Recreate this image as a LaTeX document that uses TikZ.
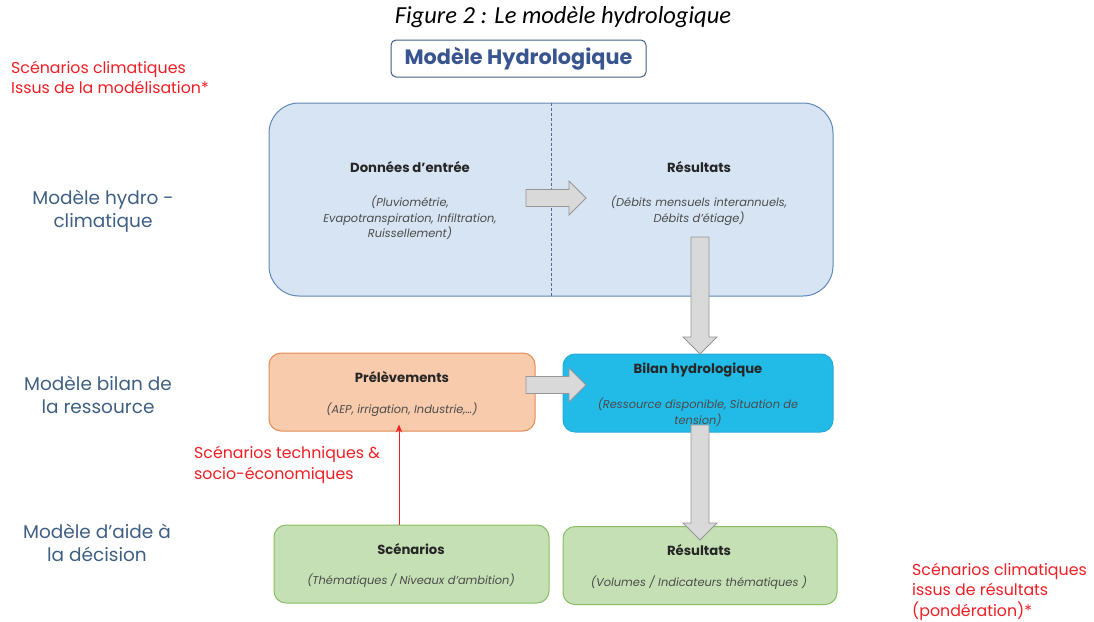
\documentclass[tikz,border=0pt]{standalone}
\usepackage{fontspec}
\setmainfont{Poppins}
\newfontfamily\calib{Carlito}
\usepackage{tikz}
\usetikzlibrary{positioning,arrows.meta,calc}

\definecolor{bleuT}{RGB}{63,95,130}
\definecolor{rougeT}{RGB}{238,30,36}
\definecolor{bleuF}{RGB}{214,228,243}
\definecolor{bleuB}{RGB}{95,135,185}
\definecolor{orF}{RGB}{248,203,173}
\definecolor{orB}{RGB}{225,140,85}
\definecolor{cyF}{RGB}{34,186,230}
\definecolor{cyB}{RGB}{40,170,215}
\definecolor{vtF}{RGB}{197,224,180}
\definecolor{vtB}{RGB}{135,190,100}
\definecolor{grF}{RGB}{217,217,217}
\definecolor{grB}{RGB}{150,150,150}
\definecolor{txG}{RGB}{75,75,75}

% block arrows between two named coordinates
\newcommand{\flecheH}[2]{%
  \draw[fleche] ($(#1)+(0,-8.5)$) -- ($(#2)+(-17,-8.5)$) -- ($(#2)+(-17,-17)$)
    -- (#2) -- ($(#2)+(-17,17)$) -- ($(#2)+(-17,8.5)$) -- ($(#1)+(0,8.5)$) -- cycle;}
\newcommand{\flecheV}[2]{%
  \draw[fleche] ($(#1)+(-9,0)$) -- ($(#2)+(-9,-17)$) -- ($(#2)+(-17,-17)$)
    -- (#2) -- ($(#2)+(17,-17)$) -- ($(#2)+(9,-17)$) -- ($(#1)+(9,0)$) -- cycle;}

\begin{document}
\begin{tikzpicture}[x=1pt, y=-1pt,
  every node/.style={inner sep=0pt},
  boite/.style={draw, line width=1pt, rounded corners=12pt},
  boiteB/.style={boite, fill=bleuF, draw=bleuB, rounded corners=30pt,
    minimum width=564pt, minimum height=193pt},
  boiteO/.style={boite, fill=orF, draw=orB, minimum width=266pt, minimum height=78pt},
  boiteC/.style={boite, fill=cyF, draw=cyB, minimum width=270pt, minimum height=78pt},
  boiteV/.style={boite, fill=vtF, draw=vtB, minimum width=275pt, minimum height=78pt},
  titre/.style={font=\fontsize{13.2}{15}\selectfont\bfseries, text=black!85},
  desc/.style={font=\fontsize{11.4}{15.5}\selectfont\itshape, text=txG, align=center},
  lbl/.style={font=\fontsize{18.5}{23.5}\selectfont, text=bleuT, align=center},
  rouge/.style={font=\fontsize{15.8}{20}\selectfont, text=rougeT, align=left},
  fleche/.style={fill=grF, draw=grB, line width=0.8pt}
]
\useasboundingbox (0,0) rectangle (1094,621);

% heading
\node[font=\calib\fontsize{24.5}{26}\selectfont\itshape] (fig) at (563,17)
  {Figure 2 : Le modèle hydrologique};
\node[draw=bleuT, line width=1pt, rounded corners=5pt, minimum width=255pt,
  minimum height=37pt, text=bleuT!90!blue, font=\fontsize{20.8}{22}\selectfont\bfseries]
  (mh) at (518.5,58.5) {Modèle Hydrologique};

% row labels
\node[lbl] (l1) at (103,211) {Modèle hydro -\\climatique};
\node[lbl] (l2) at (98,395) {Modèle bilan de\\la ressource};
\node[lbl] (l3) at (97,543) {Modèle d'aide à\\la décision};

% red scenario texts
\node[rouge, anchor=west, align=left] (r1) at (11,77.5) {Scénarios climatiques\\Issus de la modélisation*};
\node[rouge, anchor=west, font=\fontsize{15.8}{21}\selectfont] (r2) at (194,464.5) {Scénarios techniques \&\\socio-économiques};
\node[rouge, anchor=west, font=\fontsize{15.8}{20.5}\selectfont] (r3) at (912,591.5) {Scénarios climatiques\\issus de résultats\\(pondération)*};

% hydro-climatic model
\node[boiteB] (hyd) at (551,199.5) {};
\draw[densely dashed, bleuB!80!black, line width=0.5pt] (hyd.north) -- (hyd.south);
\node[titre] (don) at (410,167) {Données d'entrée};
\node[desc] (donD) at (410,218) {(Pluviométrie,\\Evapotranspiration, Infiltration,\\Ruissellement)};
\node[titre] (res1) at (699,167) {Résultats};
\node[desc] (res1D) at (699,210.5) {(Débits mensuels interannuels,\\Débits d'étiage)};

% resource balance
\node[boiteO] (prel) at (402,392) {};
\node[titre] (prelT) at (402,377) {Prélèvements};
\node[desc] (prelD) at (402,410) {(AEP, irrigation, Industrie,…)};
\node[boiteC] (bil) at (698,393) {};
\node[titre] (bilT) at (698,370) {Bilan hydrologique};
\node[desc] (bilD) at (698,412) {(Ressource disponible, Situation de\\tension)};

% decision support
\node[boiteV] (scen) at (411.5,564) {};
\node[titre] (scenT) at (411,549) {Scénarios};
\node[desc] (scenD) at (411,581) {(Thématiques / Niveaux d'ambition)};
\node[boiteV, minimum width=274pt] (res2) at (700,565.5) {};
\node[titre] (res2T) at (699,550) {Résultats};
\node[desc] (res2D) at (699,583) {(Volumes / Indicateurs thématiques )};

% block arrows
\coordinate (a1s) at (526,198);
\coordinate (a1e) at (586,198);
\coordinate (a2s) at (526,385);
\coordinate (a2e) at (586,385);
\coordinate (a3s) at (700,237);
\coordinate (a3e) at (700,354);
\coordinate (a4s) at (700,425);
\coordinate (a4e) at (700,540);
\flecheH{a1s}{a1e}
\flecheH{a2s}{a2e}
\flecheV{a3s}{a3e}
\flecheV{a4s}{a4e}

% red arrow
\draw[rougeT, line width=1pt, -{Stealth[length=8pt,width=6.5pt]}]
  (scen.north -| 399,0) -- ($(prel.south -| 399,0)+(0,-7)$);
\end{tikzpicture}
\end{document}
